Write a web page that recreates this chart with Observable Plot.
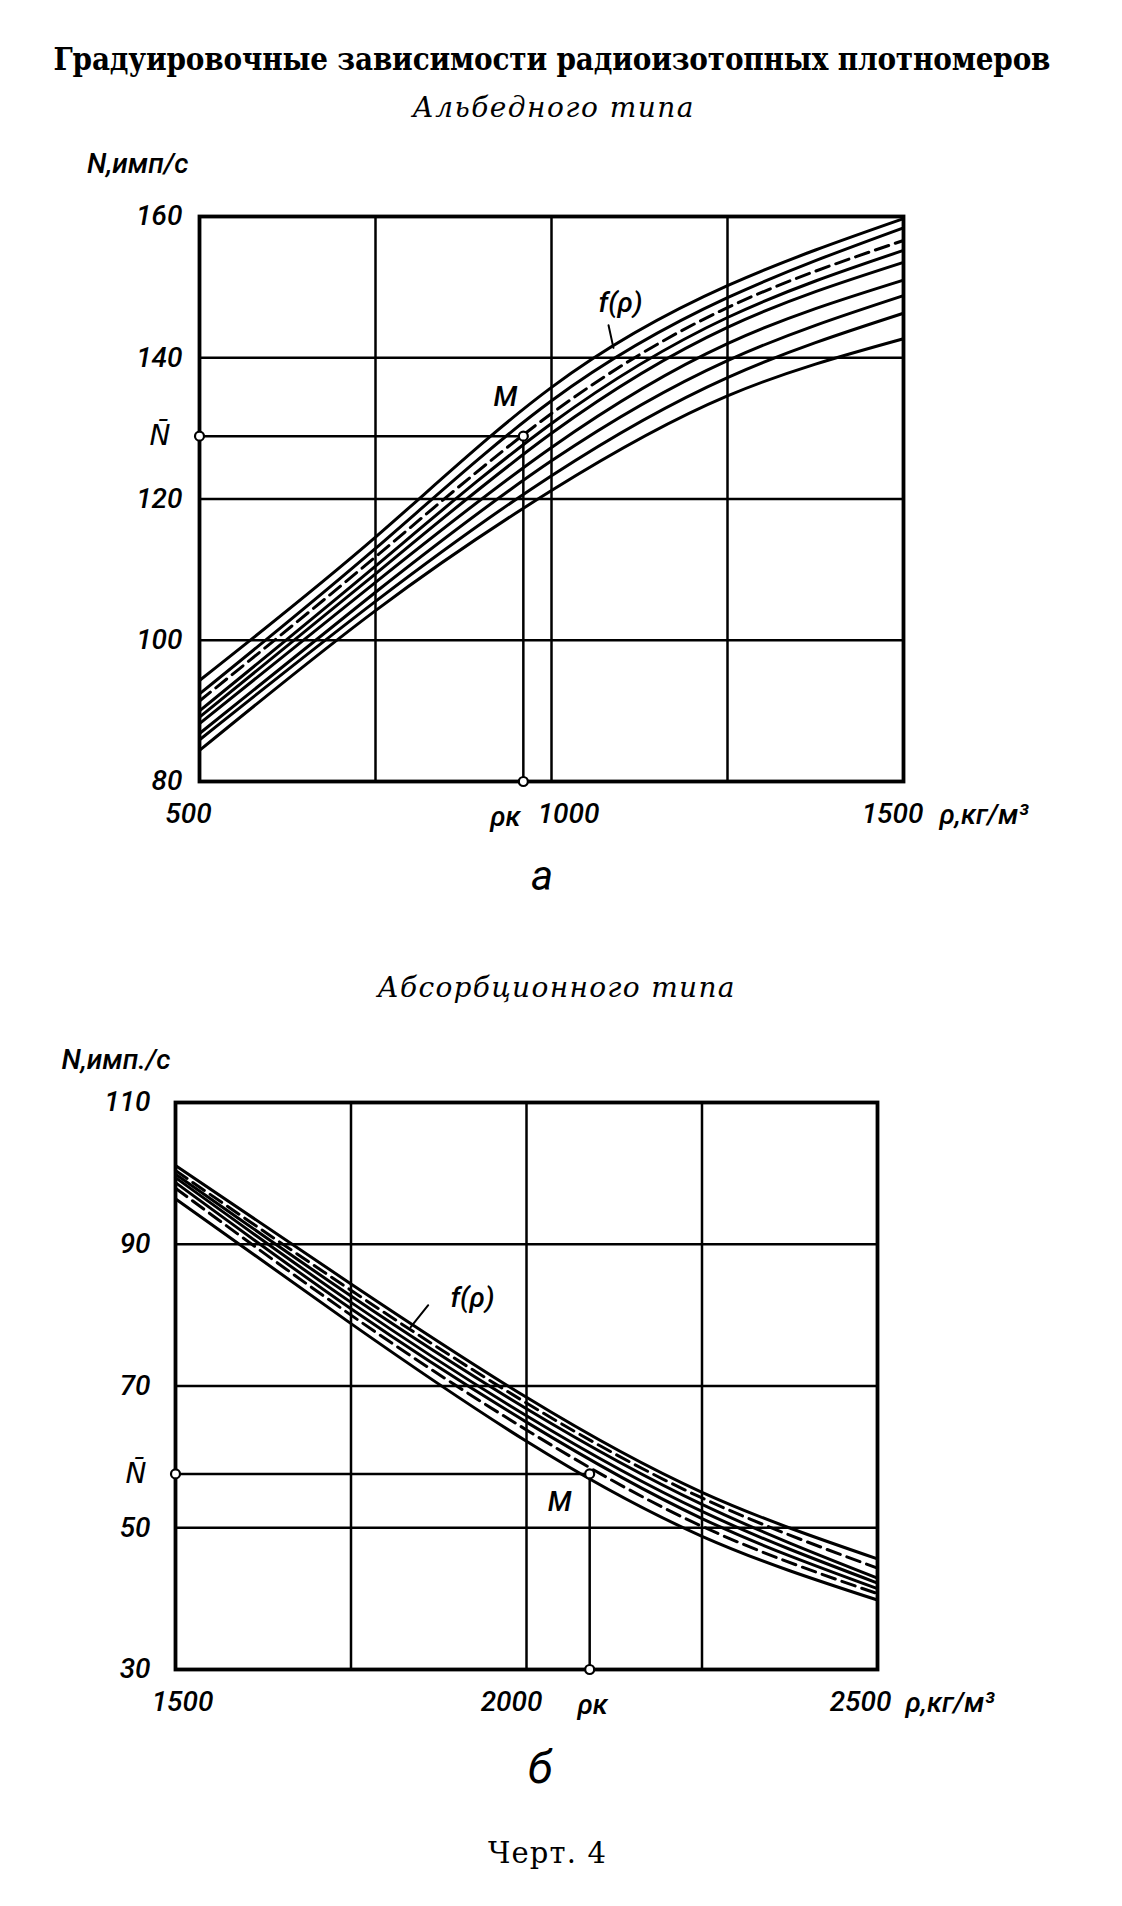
<!DOCTYPE html>
<html>
<head>
<meta charset="utf-8">
<script src="https://cdn.jsdelivr.net/npm/d3@7"></script>
<script src="https://cdn.jsdelivr.net/npm/@observablehq/plot@0.6"></script>
<style>
  html, body { margin: 0; padding: 0; background: #fff; }
  #root { position: relative; width: 1122px; height: 1906px; background: #fff; overflow: hidden; }
  #root svg { position: absolute; left: 0; }
</style>
</head>
<body>
<div id="root"></div>
<script>
// ---------- DATA ----------
const titleText = "Градуировочные зависимости радиоизотопных плотномеров";
const subtitleA = "Альбедного типа";
const subtitleB = "Абсорбционного типа";
const letterA = "а";
const letterB = "б";
const caption = "Черт. 4";

// Chart a (albedo type)
const aRho = [500, 750, 1000, 1250, 1500];
const aCurves = [
  [94.3, 114.6, 135.8, 150.2, 159.7],
  [92.4, 113.0, 133.9, 148.5, 158.4],
  [91.4, 111.8, 132.1, 147.1, 156.6],
  [90.0, 110.5, 130.7, 145.7, 155.2],
  [89.1, 109.4, 129.3, 144.3, 153.5],
  [88.2, 108.2, 127.3, 142.0, 151.0],
  [86.8, 106.8, 125.4, 139.6, 148.8],
  [85.9, 105.5, 123.3, 137.2, 146.3],
  [84.4, 104.2, 121.2, 134.6, 142.7]
];
const aXDomain = [500, 1500];
const aYDomain = [80, 160];
const aXGrid = [500, 750, 1000, 1250, 1500];
const aYGrid = [80, 100, 120, 140, 160];
const aXTicks = [500, 1000, 1500];
const aYTicks = [80, 100, 120, 140, 160];
const aRhoK = 960;
const aNbar = 128.9;
const aFLabel = [1098, 147.7];
const aFLeader = [[1081, 144.6], [1088, 141.4]];

// Chart б (absorption type)
const bRho = [1500, 1750, 2000, 2250, 2500];
const bCurves = [
  [101.1, 84.4, 68.4, 55.0, 45.6],
  [100.4, 83.5, 67.6, 54.2, 44.3],
  [99.9, 82.7, 66.8, 53.3, 42.9],
  [99.4, 81.8, 65.8, 52.3, 42.2],
  [98.7, 80.9, 64.9, 51.3, 41.4],
  [97.9, 80.0, 63.8, 50.2, 40.7],
  [96.4, 78.8, 62.2, 48.8, 39.8]
];
const bXDomain = [1500, 2500];
const bYDomain = [30, 110];
const bXGrid = [1500, 1750, 2000, 2250, 2500];
const bYGrid = [30, 50, 70, 90, 110];
const bXTicks = [1500, 2000, 2500];
const bYTicks = [30, 50, 70, 90, 110];
const bRhoK = 2090;
const bNbar = 57.6;
const bFLabel = [1923, 82.4];
const bFLeader = [[1860, 81.4], [1835, 78.3]];

const yLabelA = "N,имп/с";
const yLabelB = "N,имп./с";
const xLabel = "ρ,кг/м³";
const rhoKLabel = "ρк";
const nbarLabel = "N\u0304";
const mLabel = "M";
const fLabel = "f(ρ)";

// ---------- RENDER ----------
const root = document.getElementById("root");
const handFont = "Roboto, 'DejaVu Sans', sans-serif";
const fmt = d => String(d);

function rows(rho, curves) {
  return curves.flatMap((vals, i) => vals.map((v, j) => ({id: i, rho: rho[j], n: v})));
}

function chart(cfg) {
  const data = rows(cfg.rho, cfg.curves);
  const solid = data.filter(d => !cfg.dashed.includes(d.id));
  const dashed = data.filter(d => cfg.dashed.includes(d.id));
  const black = "#000";
  const marks = [
    Plot.gridX(cfg.xGrid, {stroke: black, strokeOpacity: 1, strokeWidth: 2.5}),
    Plot.gridY(cfg.yGrid, {stroke: black, strokeOpacity: 1, strokeWidth: 2.5}),
    Plot.ruleY([cfg.nbar], {x1: cfg.xDomain[0], x2: cfg.rhoK, stroke: black, strokeWidth: 2.5}),
    Plot.ruleX([cfg.rhoK], {y1: cfg.yDomain[0], y2: cfg.nbar, stroke: black, strokeWidth: 2.5}),
    Plot.line(solid, {x: "rho", y: "n", z: "id", curve: "natural", stroke: black, strokeWidth: 3}),
    Plot.line(dashed, {x: "rho", y: "n", z: "id", curve: "natural", stroke: black, strokeWidth: 3, strokeDasharray: "14,7"}),
    Plot.frame({stroke: black, strokeWidth: 3.8}),
    Plot.dot([[cfg.xDomain[0], cfg.nbar], [cfg.rhoK, cfg.nbar], [cfg.rhoK, cfg.yDomain[0]]],
      {x: d => d[0], y: d => d[1], r: 4.5, fill: "white", stroke: black, strokeWidth: 2.2}),
    Plot.axisY(cfg.yTicks, {tickSize: 0, tickPadding: cfg.yPad, label: null, tickFormat: fmt}),
    Plot.line(cfg.fLeader, {x: d => d[0], y: d => d[1], stroke: black, strokeWidth: 2}),
    Plot.text([cfg.fLabel], {x: d => d[0], y: d => d[1], text: () => fLabel}),
    Plot.text([[cfg.rhoK, cfg.nbar]], {x: d => d[0], y: d => d[1], text: () => mLabel, dx: cfg.mDx, dy: cfg.mDy}),
    Plot.text([cfg.nbar], {y: d => d, frameAnchor: "left", lineAnchor: "middle", text: () => nbarLabel, textAnchor: "end", dx: -29}),
    Plot.text([cfg.rhoK], {x: d => d, frameAnchor: "bottom", lineAnchor: "middle", text: () => rhoKLabel, dx: cfg.rhoKDx, dy: 36}),
    Plot.text([xLabel], {frameAnchor: "bottom-right", lineAnchor: "middle", textAnchor: "start", dx: cfg.xLabDx, dy: 34}),
    Plot.text([cfg.yLabel], {frameAnchor: "top-left", lineAnchor: "middle", textAnchor: "end", dx: cfg.yLabDx, dy: cfg.yLabDy})
  ];
  cfg.xTickGroups.forEach(g => {
    marks.push(Plot.axisX(g.ticks, {tickSize: 0, tickPadding: 22, dx: g.dx, label: null, tickFormat: fmt}));
  });
  const svg = Plot.plot({
    width: 1122,
    height: cfg.height,
    marginTop: cfg.mt, marginBottom: cfg.mb, marginLeft: cfg.ml, marginRight: cfg.mr,
    x: {domain: cfg.xDomain, label: null},
    y: {domain: cfg.yDomain, label: null},
    style: {fontFamily: handFont, fontStyle: "italic", fontWeight: "500", fontSize: "28px", background: "transparent", overflow: "visible", color: "#000"},
    marks
  });
  svg.style.top = cfg.top + "px";
  root.appendChild(svg);
}

chart({
  rho: aRho, curves: aCurves, dashed: [2],
  xDomain: aXDomain, yDomain: aYDomain, xGrid: aXGrid, yGrid: aYGrid, yTicks: aYTicks,
  xTickGroups: [{ticks: [aXTicks[0], aXTicks[2]], dx: -11}, {ticks: [aXTicks[1]], dx: 17}],
  rhoK: aRhoK, nbar: aNbar, fLabel: aFLabel, fLeader: aFLeader,
  yLabel: yLabelA, yPad: 17, mDx: -18, mDy: -39, rhoKDx: -18, xLabDx: 36, yLabDx: -11, yLabDy: -52,
  top: 140, height: 710, mt: 76, mb: 69, ml: 199, mr: 219
});

chart({
  rho: bRho, curves: bCurves, dashed: [1, 5],
  xDomain: bXDomain, yDomain: bYDomain, xGrid: bXGrid, yGrid: bYGrid, yTicks: bYTicks,
  xTickGroups: [{ticks: [bXTicks[0]], dx: 7}, {ticks: [bXTicks[1]], dx: -15}, {ticks: [bXTicks[2]], dx: -17}],
  rhoK: bRhoK, nbar: bNbar, fLabel: bFLabel, fLeader: bFLeader,
  yLabel: yLabelB, yPad: 25, mDx: -30, mDy: 28, rhoKDx: 3, xLabDx: 28, yLabDx: -5, yLabDy: -42,
  top: 1030, height: 705, mt: 72, mb: 66, ml: 175, mr: 245
});

function addText(txt, o) {
  const s = document.createElement("div");
  s.textContent = txt;
  Object.assign(s.style, {
    position: "absolute", whiteSpace: "nowrap", fontFamily: o.font,
    fontSize: o.size + "px", lineHeight: o.size + "px",
    fontStyle: o.italic ? "italic" : "normal", fontWeight: o.bold ? "bold" : "normal",
    top: (o.baseline - 0.84 * o.size) + "px", left: "0px", color: "#000"
  });
  root.appendChild(s);
  let ls = 0;
  if (o.width) {
    const w = s.getBoundingClientRect().width;
    const n = [...txt].length;
    ls = (o.width - w) / (n - 1);
    s.style.letterSpacing = ls + "px";
  }
  const w2 = s.getBoundingClientRect().width - ls;
  s.style.left = (o.cx - w2 / 2) + "px";
}

const serif = "'DejaVu Serif', 'Liberation Serif', serif";
const serifCond = "'DejaVu Serif Condensed', 'DejaVu Serif', 'Liberation Serif', serif";
addText(titleText, {font: serifCond, size: 31, bold: true, baseline: 70, cx: 552, width: 997});
addText(subtitleA, {font: serif, size: 28, italic: true, baseline: 118, cx: 553, width: 281});
addText(letterA, {font: handFont, size: 42, italic: true, baseline: 890, cx: 542});
addText(subtitleB, {font: serif, size: 28, italic: true, baseline: 998, cx: 556, width: 357});
addText(letterB, {font: handFont, size: 46, italic: true, baseline: 1783, cx: 540});
addText(caption, {font: serif, size: 29, baseline: 1863, cx: 547, width: 118});
</script>
</body>
</html>
